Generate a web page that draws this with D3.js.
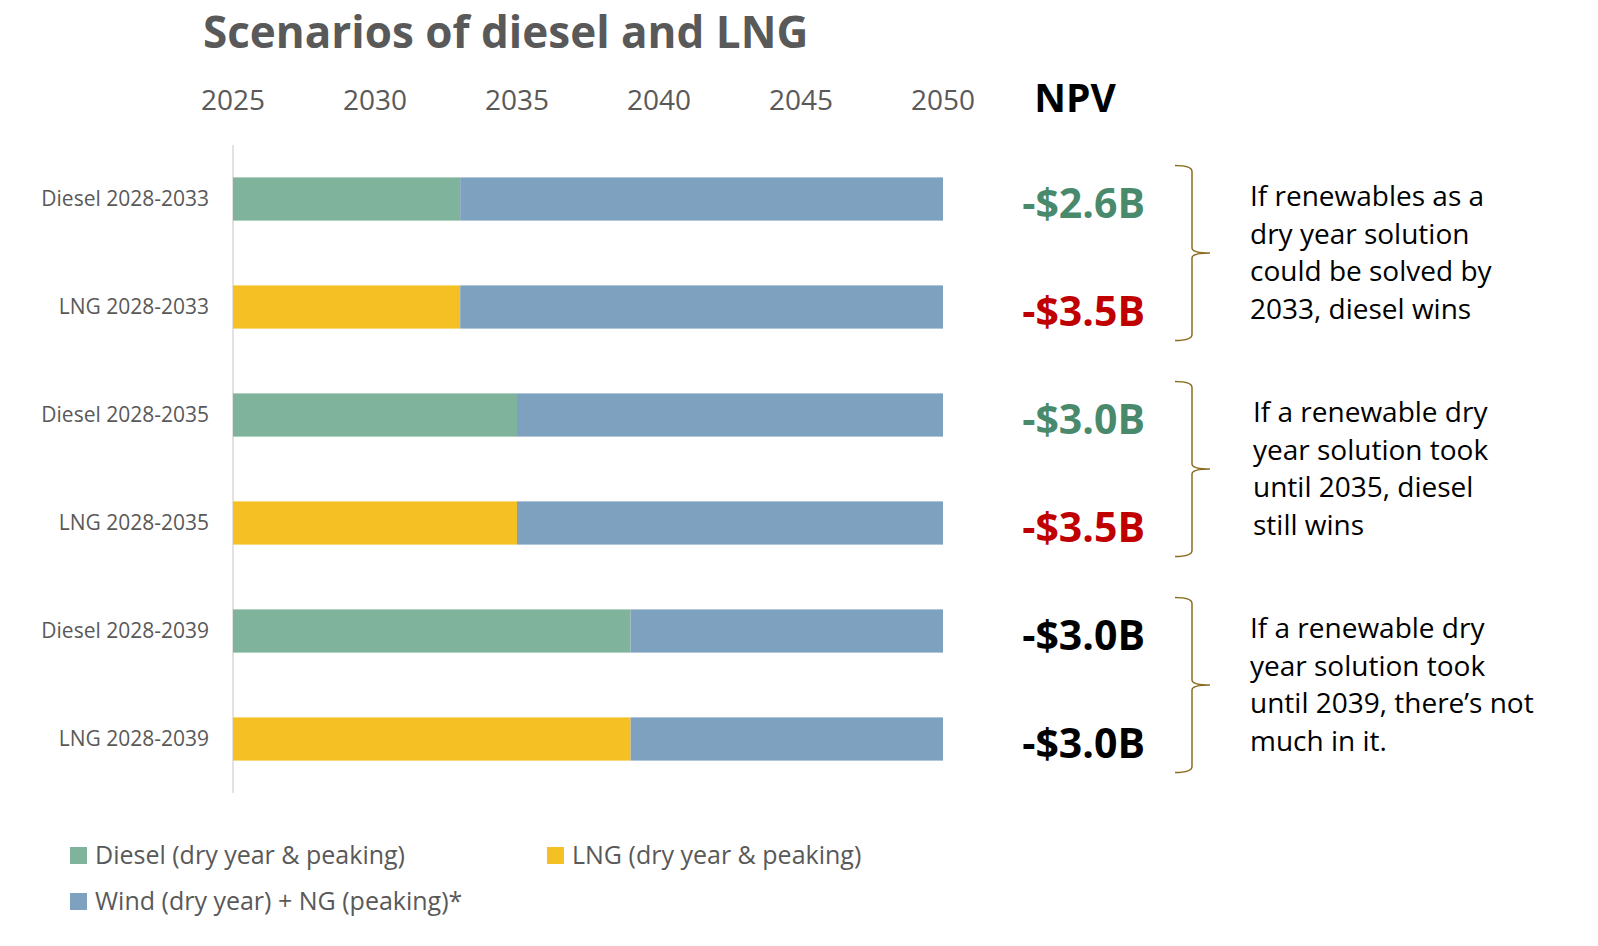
<!DOCTYPE html>
<html>
<head>
<meta charset="utf-8">
<script src="https://d3js.org/d3.v7.min.js"></script>
<style>
  body {margin:0; background:#fff;}
  text {font-family: "Open Sans", "Noto Sans", sans-serif;}
</style>
</head>
<body>
<div id="chart"></div>
<script>
// data
var scenarios = ["Diesel 2028-2033", "LNG 2028-2033", "Diesel 2028-2035", "LNG 2028-2035", "Diesel 2028-2039", "LNG 2028-2039"];
var fuelType = ["diesel", "lng", "diesel", "lng", "diesel", "lng"];
var fuelEnd = [2033, 2033, 2035, 2035, 2039, 2039];
var startYear = 2025, endYear = 2050;
var npvLabels = ["-$2.6B", "-$3.5B", "-$3.0B", "-$3.5B", "-$3.0B", "-$3.0B"];
var npvColors = ["#4a8a6c", "#c00000", "#4a8a6c", "#c00000", "#000000", "#000000"];
var yearTicks = [2025, 2030, 2035, 2040, 2045, 2050];
var notes = [
  ["If renewables as a", "dry year solution", "could be solved by", "2033, diesel wins"],
  ["If a renewable dry", "year solution took", "until 2035, diesel", "still wins"],
  ["If a renewable dry", "year solution took", "until 2039, there\u2019s not", "much in it."]
];
var colors = {diesel: "#7fb39b", lng: "#f5c024", wind: "#7fa1c0"};
var legendItems = [
  {key: "diesel", label: "Diesel (dry year & peaking)"},
  {key: "lng", label: "LNG (dry year & peaking)"},
  {key: "wind", label: "Wind (dry year) + NG (peaking)*"}
];

var W = 1598, H = 946;
var svg = d3.select("#chart").append("svg").attr("width", W).attr("height", H);

var x = d3.scaleLinear().domain([startYear, endYear]).range([233, 943]);
var y = d3.scaleBand().domain(scenarios).range([145, 793]).paddingInner(0.6).paddingOuter(0.3);

// title
svg.append("text").attr("x", 203).attr("y", 48).attr("font-size", 44).attr("font-weight", "bold")
  .attr("fill", "#595959").text("Scenarios of diesel and LNG");

// year axis (top, no line)
svg.append("g").selectAll("text").data(yearTicks).enter().append("text")
  .attr("x", function(d){ return x(d); }).attr("y", 110).attr("text-anchor", "middle")
  .attr("font-size", 28).attr("fill", "#595959").text(function(d){ return d; });
svg.append("text").attr("x", 1075).attr("y", 112).attr("text-anchor", "middle")
  .attr("font-size", 39).attr("font-weight", "bold").attr("fill", "#000").text("NPV");

// left axis line
svg.append("line").attr("x1", 233).attr("x2", 233).attr("y1", 145).attr("y2", 793)
  .attr("stroke", "#d9d9d9").attr("stroke-width", 1.5);

// bars
var rows = svg.append("g").selectAll("g").data(scenarios).enter().append("g");
rows.append("rect")
  .attr("x", x(startYear)).attr("y", function(d){ return y(d); })
  .attr("width", function(d, i){ return x(fuelEnd[i]) - x(startYear); })
  .attr("height", y.bandwidth())
  .attr("fill", function(d, i){ return colors[fuelType[i]]; });
rows.append("rect")
  .attr("x", function(d, i){ return x(fuelEnd[i]); }).attr("y", function(d){ return y(d); })
  .attr("width", function(d, i){ return x(endYear) - x(fuelEnd[i]); })
  .attr("height", y.bandwidth())
  .attr("fill", colors.wind);
rows.append("text")
  .attr("x", 209).attr("y", function(d){ return y(d) + y.bandwidth()/2; }).attr("dy", "0.35em")
  .attr("text-anchor", "end").attr("font-size", 21).attr("fill", "#595959")
  .text(function(d){ return d; });
rows.append("text")
  .attr("x", 1145).attr("y", function(d){ return y(d) + y.bandwidth()/2 + 5; }).attr("dy", "0.35em")
  .attr("text-anchor", "end").attr("font-size", 41).attr("font-weight", "bold")
  .attr("fill", function(d, i){ return npvColors[i]; })
  .text(function(d, i){ return npvLabels[i]; });

// braces + notes
notes.forEach(function(lines, k){
  var top = y(scenarios[2*k]) - 12, bot = y(scenarios[2*k+1]) + y.bandwidth() + 12, mid = (top + bot)/2;
  var bx = 1192;
  var p = "M" + (bx-17) + "," + top + " Q" + bx + "," + top + " " + bx + "," + (top+6)
    + " L" + bx + "," + (mid-5) + " Q" + bx + "," + mid + " " + (bx+18) + "," + mid
    + " Q" + bx + "," + mid + " " + bx + "," + (mid+5)
    + " L" + bx + "," + (bot-6) + " Q" + bx + "," + bot + " " + (bx-17) + "," + bot;
  svg.append("path").attr("d", p).attr("fill", "none").attr("stroke", "#8a6d1f").attr("stroke-width", 1.5);
  var t = svg.append("text").attr("font-size", 28).attr("fill", "#000");
  lines.forEach(function(l, j){
    t.append("tspan").attr("x", k == 1 ? 1253 : 1250).attr("y", mid - 47 + j*37.5).text(l);
  });
});

// legend
var legPos = [[70, 855], [547, 855], [70, 901]];
legendItems.forEach(function(it, i){
  svg.append("rect").attr("x", legPos[i][0]).attr("y", legPos[i][1] - 8).attr("width", 17).attr("height", 17)
    .attr("fill", colors[it.key]);
  svg.append("text").attr("x", legPos[i][0] + 25).attr("y", legPos[i][1]).attr("dy", "0.35em")
    .attr("font-size", 25).attr("fill", "#595959").text(it.label);
});
</script>
</body>
</html>
